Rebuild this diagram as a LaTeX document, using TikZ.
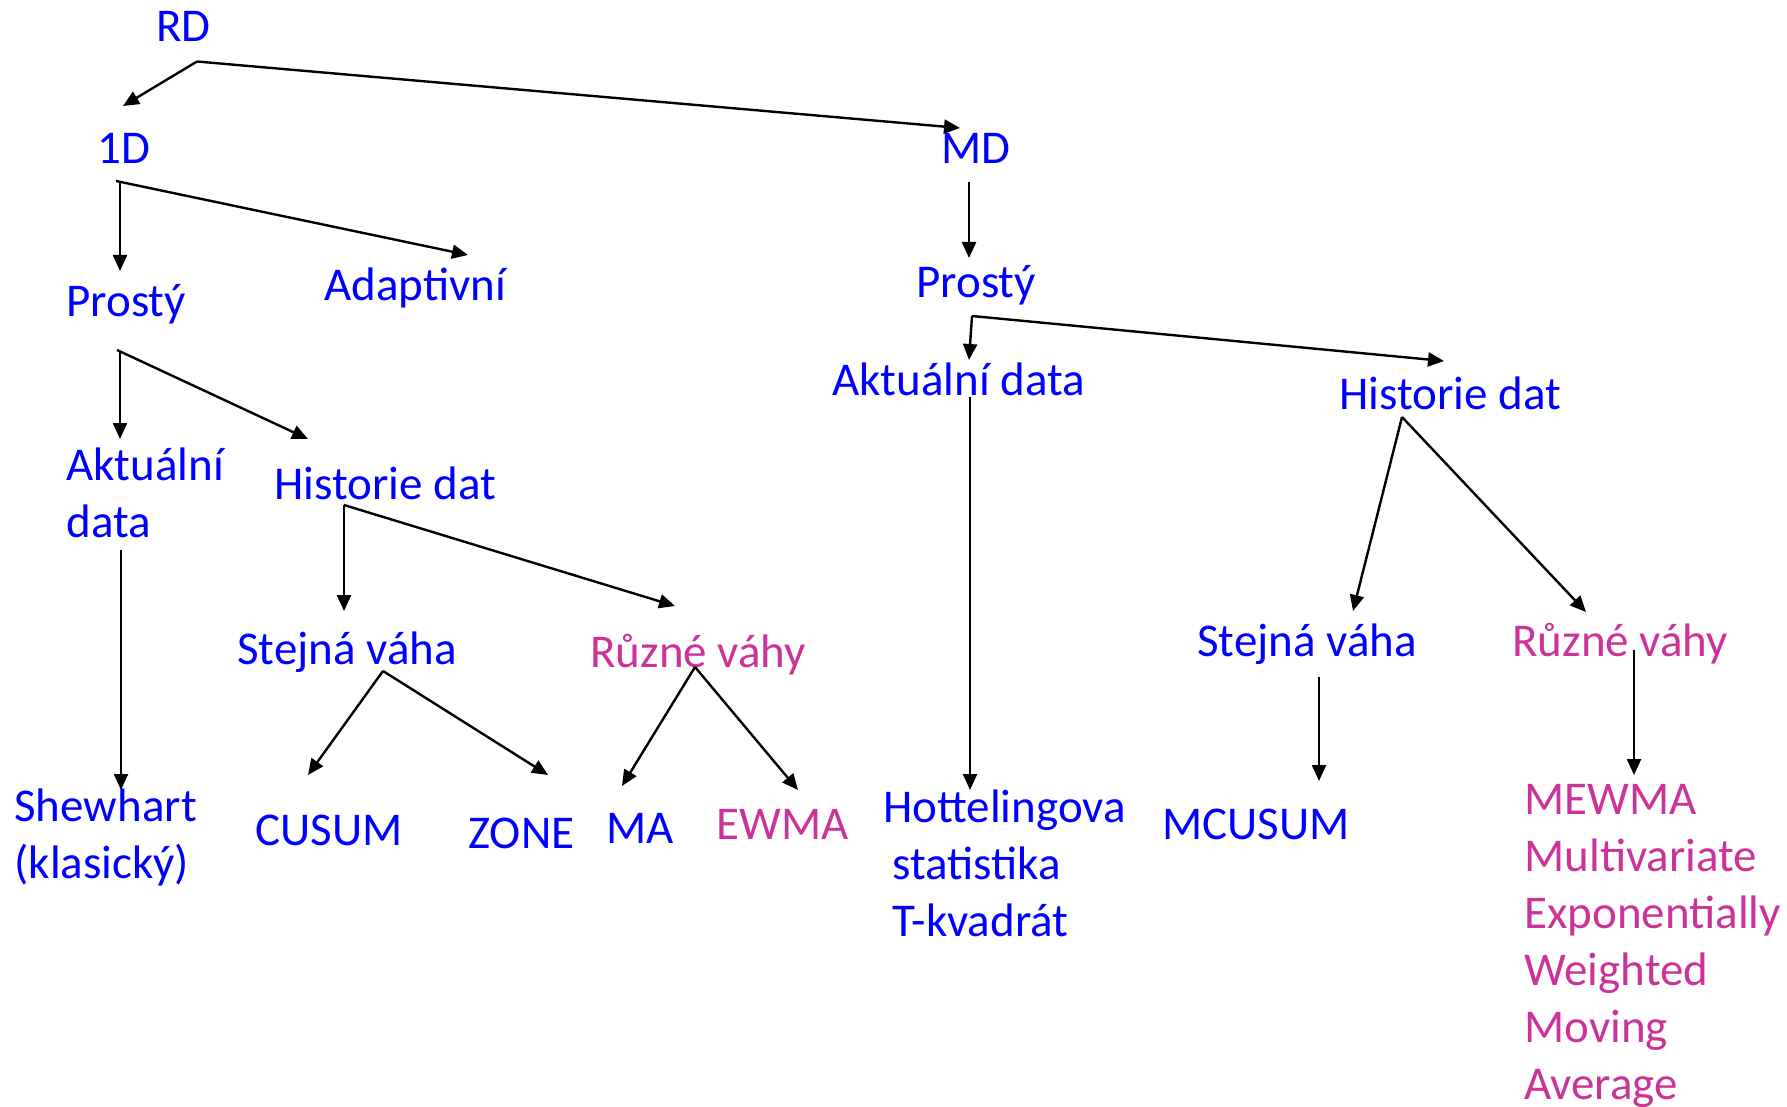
\documentclass[tikz,border=0pt]{standalone}
\usepackage{fontspec}
\setmainfont{Carlito}
\usetikzlibrary{arrows.meta}
\definecolor{rdblue}{RGB}{0,0,255}
\definecolor{rdpink}{RGB}{204,51,153}
\tikzset{
    lbl/.style={text=rdblue, anchor=base west, inner sep=0pt, align=left, font=\fontsize{23.5}{28.5}\selectfont},
    wlbl/.style={lbl, text=rdpink},
    arr/.style={-{Triangle[length=8pt,width=7pt]}, line width=1.2pt},
}
\begin{document}
\begin{tikzpicture}[x=0.5pt, y=-0.5pt]
        \useasboundingbox (0,0) rectangle (1787,1107);
        % levels
        \node[lbl] (rd) at (156,42) {RD};
        \node[lbl] (d1) at (97,164) {1D};
        \node[lbl] (md) at (941,164) {MD};
        \node[lbl] (prostyL) at (66,316) {Prostý};
        \node[lbl] (adapt) at (324,300) {Adaptivní};
        \node[lbl] (prostyR) at (916,297) {Prostý};
        \node[lbl] (aktR) at (832,395) {Aktuální data};
        \node[lbl] (histR) at (1339,409) {Historie dat};
        \node[lbl] (aktL) at (66,537) {Aktuální\\data};
        \node[lbl] (histL) at (274,499) {Historie dat};
        \node[lbl] (stejL) at (237,664) {Stejná váha};
        \node[wlbl] (ruzL) at (590,667) {Různé váhy};
        \node[lbl] (stejR) at (1197,656) {Stejná váha};
        \node[wlbl] (ruzR) at (1512,656) {Různé váhy};
        % leaves (multi-line nodes sit on their last line)
        \node[lbl] (shew) at (14,878) {Shewhart\\(klasický)};
        \node[lbl] (cusum) at (255,845) {CUSUM};
        \node[lbl] (zone) at (468,848) {ZONE};
        \node[lbl] (ma) at (606,843) {MA};
        \node[wlbl] (ewma) at (716,839) {EWMA};
        \node[lbl] (hott) at (883,936) {Hottelingova\\\hspace*{4.5pt}statistika\\\hspace*{4.5pt}T-kvadrát};
        \node[lbl] (mcusum) at (1162,839) {MCUSUM};
        \node[wlbl] (mewma) at (1524,1099) {MEWMA\\Multivariate\\Exponentially\\Weighted\\Moving\\Average};
        % arrows
        \draw[arr] ([shift={(41,19.5)}]rd.base west) -- ([shift={(26,-58)}]d1.base west);
        \draw[arr] ([shift={(41,19.5)}]rd.base west) -- ([shift={(19,-36)}]md.base west);
        \draw[arr] ([shift={(23,18)}]d1.base west) -- ([shift={(54,-45)}]prostyL.base west);
        \draw[arr] ([shift={(19,17)}]d1.base west) -- ([shift={(144,-45)}]adapt.base west);
        \draw[arr] ([shift={(28,18)}]md.base west) -- ([shift={(53,-39)}]prostyR.base west);
        \draw[arr] ([shift={(56,19)}]prostyR.base west) -- ([shift={(137,-35)}]aktR.base west);
        \draw[arr] ([shift={(56,19)}]prostyR.base west) -- ([shift={(105,-48)}]histR.base west);
        \draw[arr] ([shift={(138,2)}]aktR.base west) -- ([shift={(87,-146)}]hott.base west);
        \draw[arr] ([shift={(63,8)}]histR.base west) -- ([shift={(156,-45)}]stejR.base west);
        \draw[arr] ([shift={(63,8)}]histR.base west) -- ([shift={(74,-44)}]ruzR.base west);
        \draw[arr] ([shift={(122,21)}]stejR.base west) -- ([shift={(157,-58)}]mcusum.base west);
        \draw[arr] ([shift={(122,-6)}]ruzR.base west) -- ([shift={(110,-324)}]mewma.base west);
        \draw[arr] ([shift={(54,35)}]prostyL.base west) -- ([shift={(54,-98)}]aktL.base west);
        \draw[arr] ([shift={(51,34)}]prostyL.base west) -- ([shift={(34,-60)}]histL.base west);
        \draw[arr] ([shift={(55,13)}]aktL.base west) -- ([shift={(107,-88)}]shew.base west);
        \draw[arr] ([shift={(70,6)}]histL.base west) -- ([shift={(107,-53)}]stejL.base west);
        \draw[arr] ([shift={(70,6)}]histL.base west) -- ([shift={(85,-61)}]ruzL.base west);
        \draw[arr] ([shift={(146,7)}]stejL.base west) -- ([shift={(53,-70)}]cusum.base west);
        \draw[arr] ([shift={(146,7)}]stejL.base west) -- ([shift={(80,-73)}]zone.base west);
        \draw[arr] ([shift={(105,0)}]ruzL.base west) -- ([shift={(16,-57)}]ma.base west);
        \draw[arr] ([shift={(105,0)}]ruzL.base west) -- ([shift={(82,-49)}]ewma.base west);
\end{tikzpicture}
\end{document}
